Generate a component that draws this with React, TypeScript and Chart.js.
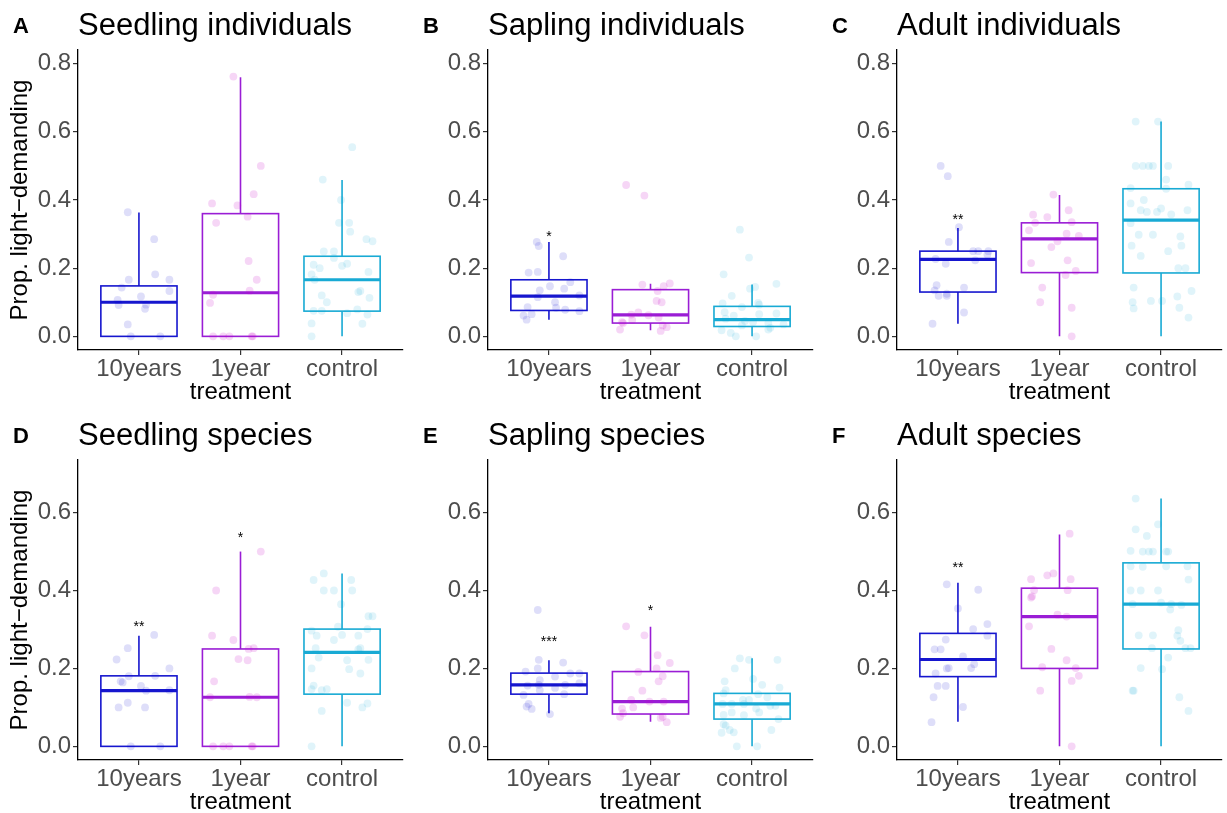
import React, { useEffect, useRef } from 'react';
import { Chart, registerables } from 'chart.js';

Chart.register(...registerables);

const FONT = '"Liberation Sans", Arial, Helvetica, sans-serif';

const categories = ['10years', '1year', 'control'];
const lineColors = ['#1616CE', '#9A1DD5', '#18AAD4'];
const pointColors = ['rgba(0,0,205,0.13)', 'rgba(200,0,200,0.16)', 'rgba(0,165,210,0.12)'];

const topTicks = [0, 0.2, 0.4, 0.6, 0.8];
const bottomTicks = [0, 0.2, 0.4, 0.6];
const topRange = [-0.04, 0.84];
const bottomRange = [-0.035, 0.735];

const panelLetters = ['A', 'B', 'C', 'D', 'E', 'F'];
const panelTitles = [
  'Seedling individuals',
  'Sapling individuals',
  'Adult individuals',
  'Seedling species',
  'Sapling species',
  'Adult species',
];

// box stats per group: [lower whisker, Q1, median, Q3, upper whisker]
const boxA = [[0, 0, 0.1, 0.148, 0.363], [0, 0, 0.128, 0.36, 0.76], [0, 0.074, 0.166, 0.235, 0.459]];
const boxB = [[0.049, 0.076, 0.118, 0.166, 0.277], [0.018, 0.039, 0.063, 0.137, 0.154], [0, 0.029, 0.049, 0.088, 0.152]];
const boxC = [[0.037, 0.13, 0.226, 0.25, 0.318], [0, 0.187, 0.286, 0.333, 0.415], [0, 0.186, 0.341, 0.433, 0.63]];
const boxD = [[0, 0, 0.143, 0.181, 0.284], [0, 0, 0.126, 0.25, 0.5], [0, 0.134, 0.241, 0.301, 0.444]];
const boxE = [[0.085, 0.134, 0.158, 0.188, 0.221], [0.063, 0.083, 0.115, 0.192, 0.307], [0, 0.07, 0.109, 0.136, 0.226]];
const boxF = [[0.063, 0.179, 0.223, 0.29, 0.42], [0, 0.2, 0.333, 0.406, 0.544], [0, 0.25, 0.365, 0.471, 0.636]];

// significance labels and their heights
const sigA = ['', '', ''];
const sigB = ['*', '', ''];
const sigC = ['**', '', ''];
const sigD = ['**', '*', ''];
const sigE = ['***', '*', ''];
const sigF = ['**', '', ''];
const sigYA = [0, 0, 0];
const sigYB = [0.301, 0, 0];
const sigYC = [0.35, 0, 0];
const sigYD = [0.314, 0.543, 0];
const sigYE = [0.274, 0.354, 0];
const sigYF = [0.465, 0, 0];

// jittered points: [horizontal offset from category, value]
const ptsA10 = [[-0.11, 0.364], [0.15, 0.285], [-0.1, 0.166], [-0.17, 0.143], [0.16, 0.182], [0.3, 0.166], [0.3, 0.133], [0.02, 0.117], [-0.21, 0.107], [-0.2, 0.092], [0.07, 0.093], [0.06, 0.081], [-0.11, 0.035], [-0.08, 0], [0.21, 0]];
const ptsA1 = [[-0.07, 0.762], [0.2, 0.5], [0.13, 0.417], [-0.28, 0.39], [-0.03, 0.384], [-0.24, 0.333], [0.07, 0.351], [0.08, 0.221], [0.16, 0.166], [0.09, 0.134], [-0.27, 0.122], [-0.3, 0.098], [-0.27, 0], [-0.17, 0], [-0.11, 0], [0.11, 0], [0.12, 0]];
const ptsAc = [[0.1, 0.555], [-0.19, 0.46], [-0.01, 0.4], [-0.03, 0.333], [0.07, 0.333], [0.08, 0.307], [0.24, 0.285], [0.3, 0.279], [-0.18, 0.249], [-0.08, 0.249], [-0.08, 0.23], [0, 0.207], [0.05, 0.213], [-0.28, 0.21], [-0.22, 0.2], [-0.3, 0.182], [-0.27, 0.166], [0.26, 0.189], [0.18, 0.133], [0.16, 0.13], [0.27, 0.113], [-0.2, 0.12], [-0.15, 0.1], [-0.28, 0.075], [-0.2, 0.075], [0.05, 0.068], [0.15, 0.079], [0.25, 0.064], [0.2, 0.037], [-0.3, 0.038], [-0.3, 0]];

const ptsB10 = [[-0.12, 0.277], [-0.1, 0.265], [0.14, 0.235], [-0.2, 0.187], [-0.11, 0.189], [0.21, 0.159], [0.01, 0.147], [0.15, 0.14], [-0.09, 0.135], [-0.11, 0.115], [0.3, 0.12], [0.06, 0.1], [0.07, 0.084], [-0.21, 0.086], [0.16, 0.078], [0.3, 0.074], [-0.17, 0.065], [-0.25, 0.061], [-0.22, 0.049]];
const ptsB1 = [[-0.24, 0.444], [-0.06, 0.413], [-0.08, 0.152], [0.19, 0.155], [0.13, 0.147], [0.07, 0.133], [0.06, 0.104], [0.11, 0.1], [-0.12, 0.07], [-0.19, 0.064], [-0.02, 0.062], [0.08, 0.055], [-0.18, 0.048], [-0.27, 0.039], [-0.28, 0.042], [0.16, 0.027], [0.12, 0.032], [-0.3, 0.02], [0.1, 0.016]];
const ptsBc = [[-0.12, 0.313], [-0.03, 0.231], [-0.28, 0.182], [0.24, 0.154], [0.03, 0.145], [-0.02, 0.14], [-0.2, 0.119], [-0.1, 0.086], [0.06, 0.098], [0.07, 0.093], [-0.29, 0.097], [-0.27, 0.071], [-0.18, 0.061], [0.07, 0.065], [0.24, 0.067], [-0.26, 0.052], [-0.07, 0.045], [0.01, 0.042], [0.16, 0.039], [0.31, 0.035], [-0.3, 0.018], [-0.21, 0.01], [0.16, 0.02], [0.18, 0.025], [-0.16, 0], [0.04, 0], [-0.1, 0.032]];

const ptsC10 = [[-0.17, 0.5], [-0.1, 0.47], [0.01, 0.32], [-0.09, 0.277], [0.15, 0.25], [0.2, 0.25], [0.3, 0.25], [0.29, 0.24], [0.17, 0.223], [-0.22, 0.227], [-0.12, 0.213], [-0.21, 0.15], [-0.23, 0.135], [-0.19, 0.119], [-0.11, 0.125], [-0.11, 0.119], [0.06, 0.143], [0.06, 0.07], [-0.25, 0.037]];
const ptsC1 = [[-0.06, 0.416], [-0.26, 0.357], [0.09, 0.37], [-0.12, 0.35], [-0.24, 0.333], [0.12, 0.335], [-0.3, 0.311], [0.07, 0.301], [0.19, 0.295], [-0.02, 0.279], [-0.08, 0.262], [-0.28, 0.215], [0.08, 0.223], [0.16, 0.192], [0.06, 0.18], [-0.17, 0.143], [-0.19, 0.1], [0.12, 0.084], [0.12, 0]];
const ptsCc = [[-0.25, 0.63], [-0.03, 0.63], [-0.25, 0.5], [-0.18, 0.5], [-0.12, 0.5], [-0.08, 0.5], [0.07, 0.5], [0.05, 0.46], [-0.3, 0.435], [0.27, 0.445], [0.05, 0.433], [-0.3, 0.39], [-0.17, 0.4], [-0.2, 0.37], [-0.14, 0.365], [-0.04, 0.365], [0, 0.375], [0.1, 0.358], [0.26, 0.37], [-0.3, 0.332], [-0.22, 0.298], [-0.08, 0.298], [0.19, 0.293], [-0.29, 0.266], [0.2, 0.266], [-0.2, 0.236], [0.07, 0.25], [0.17, 0.2], [0.24, 0.2], [-0.27, 0.143], [0.3, 0.133], [-0.28, 0.1], [-0.1, 0.104], [0.01, 0.104], [0.16, 0.117], [-0.27, 0.082], [0.18, 0.084], [0.27, 0.055]];

const ptsD10 = [[0.15, 0.286], [-0.11, 0.252], [-0.22, 0.223], [0.3, 0.2], [-0.1, 0.18], [0.16, 0.181], [-0.18, 0.167], [-0.16, 0.164], [0.02, 0.155], [0.07, 0.143], [0.3, 0.144], [-0.11, 0.112], [-0.2, 0.1], [0.06, 0.1], [-0.08, 0], [0.21, 0]];
const ptsD1 = [[0.2, 0.5], [-0.24, 0.4], [-0.28, 0.284], [-0.07, 0.273], [0.08, 0.25], [0.13, 0.252], [-0.02, 0.224], [0.07, 0.221], [-0.26, 0.167], [-0.3, 0.126], [0.09, 0.127], [0.16, 0.126], [-0.27, 0], [-0.17, 0], [-0.11, 0], [0.11, 0], [0.12, 0]];
const ptsDc = [[-0.18, 0.444], [-0.28, 0.427], [0.09, 0.427], [-0.18, 0.4], [-0.08, 0.4], [0.1, 0.4], [-0.01, 0.365], [0.26, 0.334], [0.3, 0.334], [-0.04, 0.307], [0.25, 0.301], [-0.3, 0.297], [-0.25, 0.284], [0, 0.286], [0.16, 0.284], [-0.08, 0.273], [-0.26, 0.252], [0.16, 0.249], [0.18, 0.252], [-0.23, 0.228], [0.05, 0.221], [0.26, 0.222], [-0.3, 0.2], [0.07, 0.198], [0.18, 0.187], [-0.28, 0.156], [-0.3, 0.147], [-0.2, 0.144], [-0.15, 0.147], [0.05, 0.112], [0.25, 0.11], [0.2, 0.1], [-0.2, 0.091], [-0.3, 0]];

const ptsE10 = [[-0.11, 0.35], [-0.1, 0.222], [0.14, 0.215], [-0.11, 0.2], [-0.23, 0.192], [0.21, 0.187], [0.3, 0.187], [0.06, 0.179], [-0.09, 0.17], [-0.21, 0.156], [-0.1, 0.158], [0.16, 0.158], [0.3, 0.162], [0.06, 0.15], [-0.09, 0.144], [0.15, 0.134], [-0.25, 0.132], [-0.2, 0.109], [-0.22, 0.102], [-0.17, 0.096], [0.01, 0.083]];
const ptsE1 = [[-0.24, 0.308], [-0.06, 0.285], [0.07, 0.234], [0.19, 0.214], [0.06, 0.2], [-0.12, 0.191], [0.12, 0.18], [0.08, 0.167], [-0.08, 0.143], [-0.19, 0.119], [-0.01, 0.115], [0.13, 0.115], [-0.28, 0.097], [-0.17, 0.1], [-0.27, 0.085], [-0.3, 0.076], [0.1, 0.073], [0.12, 0.076], [0.16, 0.062]];
const ptsEc = [[-0.12, 0.226], [-0.03, 0.222], [0.25, 0.222], [-0.17, 0.2], [-0.27, 0.167], [0.01, 0.173], [0.1, 0.158], [-0.26, 0.144], [-0.28, 0.136], [0.27, 0.151], [0.06, 0.134], [0.15, 0.126], [-0.09, 0.119], [-0.03, 0.119], [-0.29, 0.109], [-0.2, 0.109], [-0.08, 0.109], [0.18, 0.104], [0.23, 0.104], [0.04, 0.097], [0.07, 0.087], [-0.2, 0.087], [-0.28, 0.081], [-0.08, 0.08], [0.26, 0.07], [-0.28, 0.057], [-0.26, 0.053], [-0.22, 0.042], [-0.18, 0.036], [-0.3, 0.035], [0.19, 0.042], [-0.15, 0], [0.05, 0]];

const ptsF10 = [[-0.11, 0.416], [0.2, 0.402], [0, 0.354], [0.29, 0.314], [0.15, 0.301], [0.29, 0.284], [-0.12, 0.274], [-0.23, 0.249], [-0.17, 0.249], [0.05, 0.231], [0.16, 0.211], [-0.22, 0.187], [-0.11, 0.2], [-0.09, 0.201], [0.13, 0.201], [-0.2, 0.155], [-0.12, 0.155], [-0.24, 0.126], [0.05, 0.101], [-0.26, 0.062]];
const ptsF1 = [[0.1, 0.546], [-0.06, 0.444], [-0.12, 0.439], [-0.28, 0.429], [0.11, 0.429], [-0.25, 0.401], [0.08, 0.401], [-0.27, 0.385], [-0.28, 0.382], [-0.02, 0.338], [0.07, 0.333], [-0.3, 0.308], [-0.08, 0.25], [0.07, 0.221], [-0.17, 0.203], [0.16, 0.201], [0.19, 0.181], [0.12, 0.168], [-0.19, 0.143], [0.12, 0]];
const ptsFc = [[-0.25, 0.636], [-0.03, 0.57], [-0.25, 0.557], [-0.14, 0.54], [-0.3, 0.502], [-0.18, 0.5], [-0.12, 0.5], [-0.08, 0.5], [0.05, 0.5], [0.07, 0.5], [-0.3, 0.462], [-0.18, 0.461], [0.05, 0.462], [0.26, 0.462], [0.27, 0.428], [-0.3, 0.4], [-0.2, 0.4], [-0.03, 0.4], [-0.28, 0.365], [0, 0.369], [0.09, 0.351], [0.1, 0.365], [0.2, 0.363], [-0.22, 0.285], [-0.08, 0.285], [0.17, 0.298], [0.16, 0.284], [0.19, 0.271], [0.24, 0.252], [0.29, 0.252], [-0.09, 0.252], [0.07, 0.228], [-0.2, 0.201], [0.01, 0.198], [-0.27, 0.143], [-0.28, 0.143], [0.18, 0.126], [0.27, 0.091]];

type Panel = {
  idx: number;
  left: number;
  top: number;
  box: number[][];
  pts: number[][][];
  sig: string[];
  sigY: number[];
  ticks: number[];
  range: number[];
  yTitle: boolean;
};

const panels: Panel[] = [
  { idx: 0, left: 0, top: 0, box: boxA, pts: [ptsA10, ptsA1, ptsAc], sig: sigA, sigY: sigYA, ticks: topTicks, range: topRange, yTitle: true },
  { idx: 1, left: 410, top: 0, box: boxB, pts: [ptsB10, ptsB1, ptsBc], sig: sigB, sigY: sigYB, ticks: topTicks, range: topRange, yTitle: false },
  { idx: 2, left: 819, top: 0, box: boxC, pts: [ptsC10, ptsC1, ptsCc], sig: sigC, sigY: sigYC, ticks: topTicks, range: topRange, yTitle: false },
  { idx: 3, left: 0, top: 410, box: boxD, pts: [ptsD10, ptsD1, ptsDc], sig: sigD, sigY: sigYD, ticks: bottomTicks, range: bottomRange, yTitle: true },
  { idx: 4, left: 410, top: 410, box: boxE, pts: [ptsE10, ptsE1, ptsEc], sig: sigE, sigY: sigYE, ticks: bottomTicks, range: bottomRange, yTitle: false },
  { idx: 5, left: 819, top: 410, box: boxF, pts: [ptsF10, ptsF1, ptsFc], sig: sigF, sigY: sigYF, ticks: bottomTicks, range: bottomRange, yTitle: false },
];

const CW = 410;
const CH = 410;
const BOX_HALF = 0.375;

function boxPlugin(p: Panel) {
  return {
    id: 'boxes' + p.idx,
    beforeDatasetsDraw(chart: any) {
      const { ctx } = chart;
      const x = chart.scales.x;
      const y = chart.scales.y;
      p.box.forEach((s, i) => {
        const c = i + 1;
        const xl = x.getPixelForValue(c - BOX_HALF);
        const xr = x.getPixelForValue(c + BOX_HALF);
        const xc = x.getPixelForValue(c);
        const [lo, q1, med, q3, hi] = s.map((v) => y.getPixelForValue(v));
        ctx.save();
        ctx.strokeStyle = lineColors[i];
        ctx.lineWidth = 1.6;
        ctx.beginPath();
        ctx.moveTo(xc, q3);
        ctx.lineTo(xc, hi);
        ctx.moveTo(xc, q1);
        ctx.lineTo(xc, lo);
        ctx.stroke();
        ctx.strokeRect(xl, q3, xr - xl, q1 - q3);
        ctx.lineWidth = 3.2;
        ctx.beginPath();
        ctx.moveTo(xl, med);
        ctx.lineTo(xr, med);
        ctx.stroke();
        ctx.restore();
      });
    },
  };
}

function textPlugin(p: Panel) {
  return {
    id: 'texts' + p.idx,
    afterDraw(chart: any) {
      const { ctx, chartArea } = chart;
      const x = chart.scales.x;
      const y = chart.scales.y;
      ctx.save();
      ctx.fillStyle = '#000';
      ctx.textAlign = 'left';
      ctx.textBaseline = 'alphabetic';
      ctx.font = 'bold 22px ' + FONT;
      ctx.fillText(panelLetters[p.idx], chartArea.left - 65, 33);
      ctx.font = '31px ' + FONT;
      ctx.fillText(panelTitles[p.idx], chartArea.left, 35);
      ctx.font = '14px ' + FONT;
      ctx.textAlign = 'center';
      ctx.textBaseline = 'middle';
      p.sig.forEach((s, i) => {
        if (!s) return;
        ctx.fillText(s, x.getPixelForValue(i + 1), y.getPixelForValue(p.sigY[i]) + 3);
      });
      ctx.restore();
    },
  };
}

function PanelChart({ p }: { p: Panel }) {
  const ref = useRef<HTMLCanvasElement>(null);
  useEffect(() => {
    if (!ref.current) return;
    const chart = new Chart(ref.current, {
      type: 'scatter',
      data: {
        datasets: p.pts.map((pts, i) => ({
          data: pts.map(([j, v]) => ({ x: i + 1 + j, y: v })),
          pointBackgroundColor: pointColors[i],
          pointBorderWidth: 0,
          pointRadius: 3.9,
          pointHoverRadius: 3.9,
          showLine: false,
        })),
      },
      options: {
        responsive: false,
        animation: false,
        events: [],
        layout: { padding: { top: 50, right: 7, left: 0, bottom: 0 } },
        plugins: { legend: { display: false }, tooltip: { enabled: false }, title: { display: false } },
        scales: {
          x: {
            type: 'linear',
            min: 0.4,
            max: 3.6,
            afterBuildTicks: (s: any) => {
              s.ticks = [1, 2, 3].map((v) => ({ value: v }));
            },
            afterFit: (s: any) => {
              s.height = 60;
            },
            ticks: {
              callback: (v: any) => categories[Math.round(v) - 1],
              color: '#4D4D4D',
              font: { family: FONT, size: 24 },
              padding: 0,
              maxRotation: 0,
              autoSkip: false,
            },
            grid: { display: true, drawOnChartArea: false, drawTicks: true, tickLength: 5, color: '#333333', lineWidth: 1.2 },
            border: { display: true, color: '#000000', width: 1.3 },
            title: { display: true, text: 'treatment', color: '#000000', font: { family: FONT, size: 24 }, padding: { top: 0, bottom: 3 } },
          },
          y: {
            type: 'linear',
            min: p.range[0],
            max: p.range[1],
            afterBuildTicks: (s: any) => {
              s.ticks = p.ticks.map((v) => ({ value: v }));
            },
            afterFit: (s: any) => {
              s.width = 78;
            },
            ticks: {
              callback: (v: any) => Number(v).toFixed(1),
              color: '#4D4D4D',
              font: { family: FONT, size: 24 },
              padding: 2,
            },
            grid: { display: true, drawOnChartArea: false, drawTicks: true, tickLength: 5, color: '#333333', lineWidth: 1.2 },
            border: { display: true, color: '#000000', width: 1.3 },
            title: { display: p.yTitle, text: 'Prop. light\u2212demanding', color: '#000000', font: { family: FONT, size: 24 }, padding: { top: 6, bottom: 0 } },
          },
        },
      } as any,
      plugins: [boxPlugin(p), textPlugin(p)],
    });
    return () => chart.destroy();
  }, [p]);
  return (
    <canvas
      ref={ref}
      width={CW}
      height={CH}
      style={{ position: 'absolute', left: p.left, top: p.top, width: CW, height: CH, display: 'block' }}
    />
  );
}

export default function App() {
  return (
    <div style={{ position: 'fixed', left: 0, top: 0, width: 1227, height: 813, overflow: 'hidden', background: '#ffffff' }}>
      {panels.map((p) => (
        <PanelChart key={p.idx} p={p} />
      ))}
    </div>
  );
}
